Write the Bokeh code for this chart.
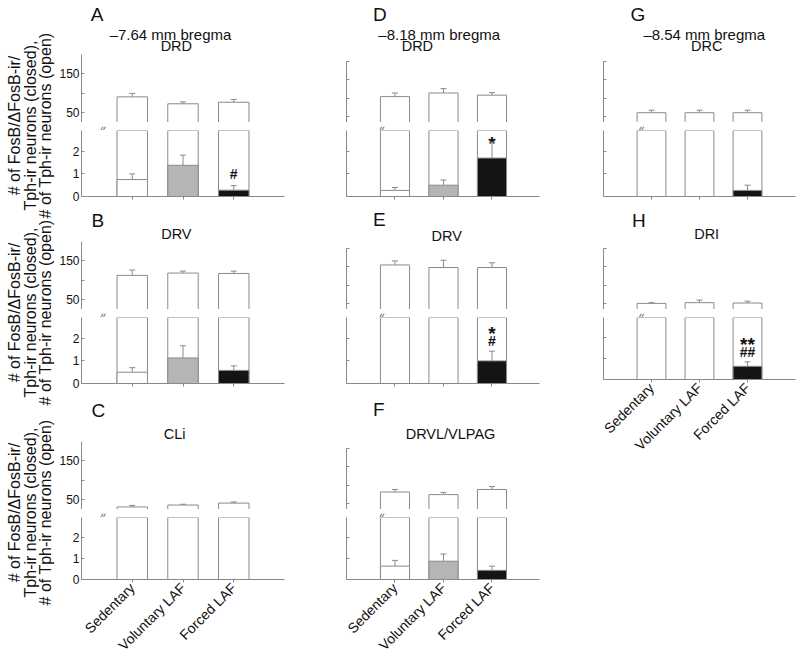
import math
from bokeh.plotting import figure
from bokeh.models import Range1d, FixedTicker, ColumnDataSource, Whisker, TeeHead
from bokeh.layouts import row, column
from bokeh.embed import file_html
from bokeh.resources import INLINE
from bokeh.core.properties import value

FONT = "Liberation Sans"
GREY = "#8a8a8a"
INK = "#111111"

# ---------------- data ----------------
categories = ["Sedentary", "Voluntary LAF", "Forced LAF"]
cat_x = [1, 2, 3]
bar_fills = ["white", "#b5b5b5", "#141414"]

upper_ticks = [50, 100, 150, 200]
upper_tick_labels = ["50", "", "150", ""]
lower_ticks = [0, 1, 2]
lower_tick_labels = ["0", "1", "2"]

bregma_labels = ["\u20137.64 mm bregma", "\u20138.18 mm bregma", "\u20138.54 mm bregma"]
panel_letters = ["A", "B", "C", "D", "E", "F", "G", "H"]
panel_regions = ["DRD", "DRV", "CLi", "DRD", "DRV", "DRVL/VLPAG", "DRC", "DRI"]
ylabel_lines = ["# of FosB/\u0394FosB-ir/", "Tph-ir neurons (closed),", "# of Tph-ir neurons (open)"]

# number of Tph-ir neurons (open bars), mean and SEM
open_A = [90, 72, 76];    open_err_A = [9, 5, 7]
open_B = [112, 118, 117]; open_err_B = [14, 5, 6]
open_C = [30, 35, 40];    open_err_C = [4, 2, 3]
open_D = [104, 114, 108]; open_err_D = [10, 12, 7]
open_E = [155, 148, 148]; open_err_E = [11, 20, 13]
open_F = [81, 74, 88];    open_err_F = [7, 6, 8]
open_G = [60, 60, 60];    open_err_G = [7, 7, 7]
open_H = [50, 52, 51];    open_err_H = [2, 7, 5]

# number of FosB/dFosB-ir/Tph-ir neurons (closed bars), mean and SEM
closed_A = [0.75, 1.38, 0.28]; closed_err_A = [0.25, 0.45, 0.20]
closed_B = [0.50, 1.13, 0.58]; closed_err_B = [0.20, 0.54, 0.20]
closed_C = [0.0, 0.0, 0.0];    closed_err_C = [0.0, 0.0, 0.0]
closed_D = [0.27, 0.50, 1.70]; closed_err_D = [0.13, 0.23, 0.70]
closed_E = [0.0, 0.0, 1.00];   closed_err_E = [0.0, 0.0, 0.43]
closed_F = [0.63, 0.86, 0.43]; closed_err_F = [0.27, 0.34, 0.20]
closed_G = [0.0, 0.0, 0.27];   closed_err_G = [0.0, 0.0, 0.23]
closed_H = [0.0, 0.0, 0.62];   closed_err_H = [0.0, 0.0, 0.21]

# significance marks: panel, group index, text, height (closed-bar units)
sig_panel = ["A", "D", "E", "E", "H", "H"]
sig_group = [2, 2, 2, 2, 2, 2]
sig_text = ["#", "*", "*", "#", "**", "##"]
sig_y = [1.00, 2.60, 2.47, 1.87, 1.93, 1.31]

panel_open = dict(A=(open_A, open_err_A), B=(open_B, open_err_B), C=(open_C, open_err_C),
                  D=(open_D, open_err_D), E=(open_E, open_err_E), F=(open_F, open_err_F),
                  G=(open_G, open_err_G), H=(open_H, open_err_H))
panel_closed = dict(A=(closed_A, closed_err_A), B=(closed_B, closed_err_B), C=(closed_C, closed_err_C),
                    D=(closed_D, closed_err_D), E=(closed_E, closed_err_E), F=(closed_F, closed_err_F),
                    G=(closed_G, closed_err_G), H=(closed_H, closed_err_H))

# ---------------- layout (page pixels) ----------------
BAR_W = 0.6
LOW_TOP = 2.92
LOW_FH = 66
GAP = 8
LAB_W = 56
PAGE_H = 661
cols = [
    dict(x0=56, w=244, bl=25, br=16, ufh=68, ylo=23.4, xend=4.0, labels=True),
    dict(x0=300, w=256, bl=46, br=17, ufh=61, ylo=33.3, xend=3.98, labels=False),
    dict(x0=556, w=242, bl=47, br=3, ufh=61, ylo=33.3, xend=4.0, labels=False),
]
row_y0 = [0, 208, 395]       # top of each row block
row_ub = [122, 309, 509]     # bottom of the upper frames
row_bb = [12, 12, 78]        # space under the lower frames
ylabel_centers = [125, 312, 512]

# (letter left x, letter centre y, [(text, centre x, centre y, size)])
titles = {
    "A": (67, 13.5, [(bregma_labels[0], 163, 33.5, "15px"), (panel_regions[0], 170, 45, "14.5px")]),
    "B": (68, 220, [(panel_regions[1], 170, 233, "14.5px")]),
    "C": (68, 410, [(panel_regions[2], 168, 433.5, "14.5px")]),
    "D": (335, 13.5, [(bregma_labels[1], 423, 33.5, "15px"), (panel_regions[3], 394, 45.5, "14.5px")]),
    "E": (335, 219, [(panel_regions[4], 433, 235, "14.5px")]),
    "F": (335, 409, [(panel_regions[5], 438, 433.5, "14.5px")]),
    "G": (590, 13.5, [(bregma_labels[2], 683, 33.5, "15px"), (panel_regions[6], 686, 45.5, "14.5px")]),
    "H": (592, 220, [(panel_regions[7], 686, 233.5, "14.5px")]),
}


def style(p):
    p.outline_line_color = None
    p.grid.visible = False
    p.background_fill_color = "white"
    p.border_fill_color = "white"


def blank_fig(x0, w, y0, h):
    p = figure(width=w, height=h, x_range=Range1d(x0, x0 + w), y_range=Range1d(y0 + h, y0),
               output_backend="svg", toolbar_location=None, x_axis_location=None,
               y_axis_location=None, min_border=0, title=None)
    style(p)
    return p


def style_axis(ax, ticks, labels, show):
    if show:
        # a tick label at the very end of the axis would make room for itself
        # above the frame; keep only ticks that carry a label or lie inside
        pairs = [(t, l) for i, (t, l) in enumerate(zip(ticks, labels))
                 if l != "" or i < len(ticks) - 1]
    else:
        pairs = list(zip(ticks, labels))
    ax.ticker = FixedTicker(ticks=[t for t, _ in pairs])
    ax.major_label_overrides = {t: (l if show else "") for t, l in pairs}
    ax.axis_line_color = GREY
    ax.major_tick_line_color = GREY
    ax.minor_tick_line_color = None
    ax.major_label_text_font = FONT
    ax.major_label_text_font_size = "12px" if show else "0px"
    ax.major_label_text_color = INK
    if not show:
        ax.major_label_standoff = 0


def make_title(key, c, r):
    top = row_ub[r] - c["ufh"]
    p = blank_fig(c["x0"], c["w"], row_y0[r], top - row_y0[r])
    lx, ly, lines = titles[key]
    p.text(x=[lx], y=[ly], text=[key], text_align="left", text_baseline="middle",
           text_font=value(FONT), text_font_size="19px", text_color=INK)
    for t, tx, ty, fs in lines:
        p.text(x=[tx], y=[ty], text=[t], text_align="center", text_baseline="middle",
               text_font=value(FONT), text_font_size=fs, text_color=INK)
    return p


def make_upper(key, c):
    p = figure(width=c["w"], height=c["ufh"], x_range=Range1d(0, c["xend"]),
               y_range=Range1d(c["ylo"], 200), output_backend="svg", toolbar_location=None,
               x_axis_location=None, min_border_left=c["bl"], min_border_right=c["br"],
               min_border_top=0, min_border_bottom=0, title=None)
    style(p)
    style_axis(p.yaxis[0], upper_ticks, upper_tick_labels, c["labels"])
    p.yaxis.major_tick_in = 3
    p.yaxis.major_tick_out = 0
    if c["labels"]:
        p.yaxis.major_label_standoff = 2
    vals, errs = panel_open[key]
    src = ColumnDataSource(dict(x=cat_x, top=vals, up=[v + e for v, e in zip(vals, errs)]))
    p.vbar(x="x", top="top", bottom=0, width=BAR_W, source=src, fill_color="white",
           line_color=GREY, line_width=1)
    p.add_layout(Whisker(source=src, base="x", lower="top", upper="up", dimension="height",
                         level="overlay", line_color=GREY, line_width=1, lower_head=None,
                         upper_head=TeeHead(size=6, line_color=GREY, line_width=1)))
    return p


def make_gap(c, r):
    y0 = row_ub[r]
    p = blank_fig(c["x0"], c["w"], y0, GAP)
    ax = c["x0"] + c["bl"]
    p.segment(x0=[ax - 5, ax - 2], y0=[y0 + GAP, y0 + GAP], x1=[ax + 1, ax + 4], y1=[y0, y0],
              line_color=GREY, line_width=1.2)
    return p


def make_lower(key, c, r, xlabels):
    bb = row_bb[r]
    p = figure(width=c["w"], height=LOW_FH + bb, x_range=Range1d(0, c["xend"]),
               y_range=Range1d(0, LOW_TOP), output_backend="svg", toolbar_location=None,
               min_border_left=c["bl"], min_border_right=c["br"],
               min_border_top=0, min_border_bottom=bb, title=None)
    style(p)
    style_axis(p.yaxis[0], lower_ticks, lower_tick_labels, c["labels"])
    p.yaxis.major_tick_in = 3
    p.yaxis.major_tick_out = 0
    if c["labels"]:
        p.yaxis.major_label_standoff = 2
    style_axis(p.xaxis[0], cat_x, categories, xlabels)
    p.xaxis.major_tick_in = 0
    p.xaxis.major_tick_out = 3
    if xlabels:
        p.xaxis.major_label_standoff = 3
        p.xaxis.major_label_text_font_size = "14px"
        p.xaxis.major_label_orientation = math.pi / 4
    ovals, _ = panel_open[key]
    p.vbar(x=cat_x, top=ovals, bottom=0, width=BAR_W, fill_color="white",
           line_color=GREY, line_width=1)
    vals, errs = panel_closed[key]
    idx = [i for i, v in enumerate(vals) if v > 0]
    src = ColumnDataSource(dict(x=[cat_x[i] for i in idx], top=[vals[i] for i in idx],
                                up=[vals[i] + errs[i] for i in idx],
                                fill=[bar_fills[i] for i in idx]))
    p.vbar(x="x", top="top", bottom=0, width=BAR_W, source=src, fill_color="fill",
           line_color=GREY, line_width=1)
    p.add_layout(Whisker(source=src, base="x", lower="top", upper="up", dimension="height",
                         level="overlay", line_color=GREY, line_width=1, lower_head=None,
                         upper_head=TeeHead(size=6, line_color=GREY, line_width=1)))
    for k, g, t, y in zip(sig_panel, sig_group, sig_text, sig_y):
        if k != key:
            continue
        star = "*" in t
        p.text(x=[cat_x[g]], y=[y], text=[t], text_align="center", text_baseline="middle",
               y_offset=6 if star else 0,
               text_font=value(FONT), text_font_size="19px" if star else "14px",
               text_font_style="bold", text_color=INK)
    return p


def make_ylabels():
    p = blank_fig(0, LAB_W, 0, PAGE_H)
    for yc in ylabel_centers:
        p.text(x=[14, 29.5, 45], y=[yc] * 3, text=ylabel_lines, angle=math.pi / 2,
               text_align="center", text_baseline="middle", text_font=value(FONT),
               text_font_size="16px", text_color=INK)
    return p


def build_column(c, keys):
    kids = []
    n = len(keys)
    for r, key in enumerate(keys):
        last = (r == n - 1)
        kids += [make_title(key, c, r), make_upper(key, c), make_gap(c, r),
                 make_lower(key, c, r if not last else 2, last)]
    return column(*kids)


col1 = build_column(cols[0], ["A", "B", "C"])
col2 = build_column(cols[1], ["D", "E", "F"])
col3 = build_column(cols[2], ["G", "H"])

layout = row(make_ylabels(), col1, col2, col3)
open("out.html", "w").write(file_html(layout, INLINE))
